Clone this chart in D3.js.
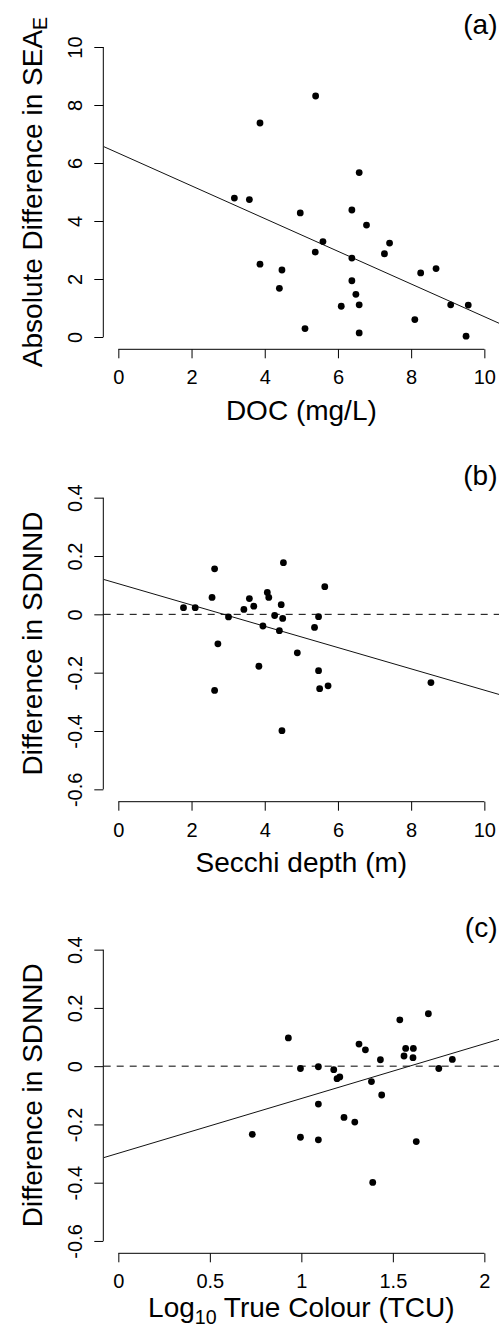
<!DOCTYPE html>
<html>
<head>
<meta charset="utf-8">
<script src="https://cdn.jsdelivr.net/npm/d3@7"></script>
<style>
  html, body { margin: 0; padding: 0; background: #fff; }
  svg { display: block; font-family: "Liberation Sans", Arial, sans-serif; }
</style>
</head>
<body>
<script>
// ---- Data ----
const docX = [5.39,3.87,6.58,3.17,3.58,4.97,6.38,6.78,5.59,7.41,5.38,7.27,6.38,3.87,4.47,8.68,8.26,6.38,4.40,6.49,6.09,6.58,9.08,9.56,8.10,5.10,6.58,9.50];
const seaDiff = [8.31,7.38,5.67,4.79,4.74,4.28,4.38,3.86,3.29,3.24,2.93,2.87,2.72,2.51,2.31,2.36,2.21,1.94,1.68,1.47,1.06,1.11,1.11,1.10,0.60,0.29,0.14,0.03];

const secchiX = [4.51,2.63,5.64,2.56,3.58,4.07,4.11,1.78,2.10,3.43,3.70,4.45,3.01,4.27,4.49,5.47,3.95,4.40,5.36,2.72,4.89,3.84,5.47,2.63,5.50,5.73,8.54,4.47];
const sdnndB = [0.177,0.156,0.095,0.058,0.054,0.075,0.058,0.023,0.023,0.017,0.028,0.033,-0.009,-0.004,-0.014,-0.008,-0.040,-0.056,-0.045,-0.101,-0.132,-0.178,-0.193,-0.261,-0.255,-0.245,-0.234,-0.399];

const colourX = [1.694,1.538,0.929,1.315,1.350,1.570,1.612,1.561,1.610,1.432,1.825,0.995,1.093,1.751,1.177,1.195,1.210,1.383,1.439,1.093,1.233,1.292,0.732,0.995,1.093,1.628,1.390];
const sdnndC = [0.180,0.159,0.097,0.076,0.056,0.061,0.061,0.035,0.029,0.022,0.023,-0.008,-0.002,-0.008,-0.012,-0.043,-0.037,-0.053,-0.099,-0.130,-0.176,-0.192,-0.234,-0.244,-0.253,-0.259,-0.399];

// regression lines: [intercept, slope]
const fitA = [6.34, -0.564];
const fitB = [0.105, -0.0365];
const fitC = [-0.299, 0.188];

// tick values and labels
const ticksX10 = [0, 2, 4, 6, 8, 10];
const ticksSEA = [0, 2, 4, 6, 8, 10];
const ticksSDNND = [-0.6, -0.4, -0.2, 0, 0.2, 0.4];
const ticksSDNNDLabels = ["-0.6", "-0.4", "-0.2", "0", "0.2", "0.4"];
const ticksColour = [0, 0.5, 1, 1.5, 2];
const ticksColourLabels = ["0", "0.5", "1", "1.5", "2"];

const panelLabels = ["(a)", "(b)", "(c)"];

// ---- Layout ----
const W = 500, H = 1327;
const left = 103.7, right = 499;
const svg = d3.select("body").append("svg").attr("width", W).attr("height", H);
svg.append("rect").attr("width", W).attr("height", H).attr("fill", "#fff");

const panels = [
  { xs: docX, ys: seaDiff, fit: fitA, xlim: [0, 10], ylim: [0, 10], top: 35.4, bottom: 348.6,
    xt: ticksX10, xtl: ticksX10.map(String), yt: ticksSEA, ytl: ticksSEA.map(String),
    xlab: [["DOC (mg/L)", null]], xlabOff: 71.5, ylab: [["Absolute Difference in SEA", null], ["E", "sub"]],
    zero: false, label: panelLabels[0] },
  { xs: secchiX, ys: sdnndB, fit: fitB, xlim: [0, 10], ylim: [-0.6, 0.4], top: 486, bottom: 801,
    xt: ticksX10, xtl: ticksX10.map(String), yt: ticksSDNND, ytl: ticksSDNNDLabels,
    xlab: [["Secchi depth (m)", null]], xlabOff: 71, ylab: [["Difference in SDNND", null]],
    zero: true, label: panelLabels[1] },
  { xs: colourX, ys: sdnndC, fit: fitC, xlim: [0, 2], ylim: [-0.6, 0.4], top: 938, bottom: 1252.6,
    xt: ticksColour, xtl: ticksColourLabels, yt: ticksSDNND, ytl: ticksSDNNDLabels,
    xlab: [["Log", null], ["10", "sub"], [" True Colour (TCU)", null]], xlabOff: 64.5, ylab: [["Difference in SDNND", null]],
    zero: true, label: panelLabels[2] }
];

function ext(lim) { const d = (lim[1] - lim[0]) * 0.04; return [lim[0] - d, lim[1] + d]; }

panels.forEach(p => {
  const x = d3.scaleLinear().domain(ext(p.xlim)).range([left, right]);
  const y = d3.scaleLinear().domain(ext(p.ylim)).range([p.bottom, p.top]);
  const g = svg.append("g");

  const cid = "clip" + Math.round(p.top);
  svg.append("clipPath").attr("id", cid).append("rect")
    .attr("x", left).attr("y", p.top).attr("width", right - left).attr("height", p.bottom - p.top);

  // x axis
  const xa = g.append("g").attr("transform", `translate(0,${p.bottom + 0.7})`)
    .call(d3.axisBottom(x).tickValues(p.xt).tickFormat((d, i) => p.xtl[i]).tickSize(9).tickSizeOuter(0));
  xa.select(".domain").remove();
  xa.append("line").attr("x1", x(p.xt[0])).attr("x2", x(p.xt[p.xt.length - 1]))
    .attr("stroke", "#000").attr("stroke-width", 1);
  xa.selectAll(".tick line").attr("stroke", "#000");
  xa.selectAll(".tick text").attr("y", 35).attr("dy", 0).attr("fill", "#000")
    .style("font-size", "20px").style("font-family", "'Liberation Sans', Arial, sans-serif");

  // y axis
  const ya = g.append("g").attr("transform", `translate(${left - 0.4},0)`)
    .call(d3.axisLeft(y).tickValues(p.yt).tickFormat((d, i) => p.ytl[i]).tickSize(9).tickSizeOuter(0));
  ya.select(".domain").remove();
  ya.append("line").attr("y1", y(p.yt[0])).attr("y2", y(p.yt[p.yt.length - 1]))
    .attr("stroke", "#000").attr("stroke-width", 1);
  ya.selectAll(".tick line").attr("stroke", "#000");
  ya.selectAll(".tick text").attr("x", 0).attr("y", -21.6).attr("dy", 0)
    .attr("transform", "rotate(-90)").attr("text-anchor", "middle").attr("fill", "#000")
    .style("font-size", "20px").style("font-family", "'Liberation Sans', Arial, sans-serif");

  // zero dashed line
  if (p.zero) {
    g.append("line").attr("x1", left).attr("x2", right).attr("y1", y(0)).attr("y2", y(0))
      .attr("stroke", "#000").attr("stroke-width", 1).attr("stroke-dasharray", "7,6");
  }

  // regression line
  const xd = x.domain();
  g.append("line").attr("clip-path", `url(#${cid})`)
    .attr("x1", x(xd[0])).attr("y1", y(p.fit[0] + p.fit[1] * xd[0]))
    .attr("x2", x(xd[1])).attr("y2", y(p.fit[0] + p.fit[1] * xd[1]))
    .attr("stroke", "#111").attr("stroke-width", 1);

  // points
  g.selectAll("circle.pt").data(p.xs.map((v, i) => [v, p.ys[i]])).join("circle")
    .attr("class", "pt").attr("cx", d => x(d[0])).attr("cy", d => y(d[1])).attr("r", 3.4).attr("fill", "#000");

  // x label
  const xl = g.append("text").attr("x", (left + right) / 2).attr("y", p.bottom + p.xlabOff)
    .attr("text-anchor", "middle").style("font-size", "28px").attr("fill", "#000");
  p.xlab.forEach((seg, i) => {
    const t = xl.append("tspan").text(seg[0]);
    if (seg[1] === "sub") t.style("font-size", "19.6px").attr("dy", 7);
    else if (i > 0 && p.xlab[i - 1][1] === "sub") t.attr("dy", -7);
  });

  // y label
  const yc = (p.top + p.bottom) / 2;
  const yl = g.append("text").attr("transform", `translate(41.5,${yc}) rotate(-90)`)
    .attr("text-anchor", "middle").style("font-size", "28px").attr("fill", "#000");
  p.ylab.forEach(seg => {
    const t = yl.append("tspan").text(seg[0]);
    if (seg[1] === "sub") t.style("font-size", "19.6px").attr("dy", 5);
  });

  // panel label
  g.append("text").attr("x", right - 1.5).attr("y", p.top - 1).attr("text-anchor", "end")
    .style("font-size", "28px").attr("fill", "#000").text(p.label);
});
</script>
</body>
</html>
